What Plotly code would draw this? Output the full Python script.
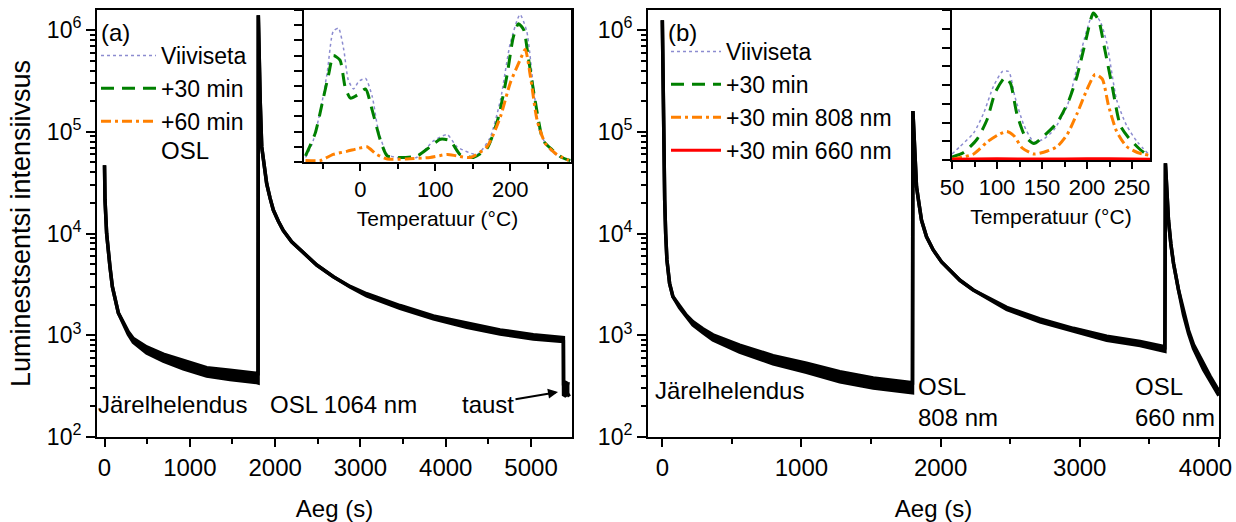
import plotly.graph_objects as go

# ---------------- main curves ----------------
# Panel (a): afterglow -> OSL 1064 nm -> background ("taust")
t_a = [0, 6, 25, 45, 64, 92, 123, 162, 221, 279, 338, 494, 690, 924, 1198, 1471, 1784, 1800,
       1803, 1815, 1825, 1843, 1870, 1901, 1940, 1979, 2038, 2096, 2194, 2292, 2488, 2683,
       2879, 3074, 3464, 3855, 4246, 4637, 5027, 5379, 5381, 5400, 5430, 5450]
hi_a = [46800, 21400, 10000, 6300, 4700, 3000, 2240, 1660, 1340, 1080, 930, 767, 653, 562, 479,
        452, 422, 420,
        1400000, 300000, 200000, 71000, 45700, 30900, 22400, 17000, 13200, 10700, 8300, 6900,
        4900, 3760, 3020, 2560, 1960, 1550, 1320, 1130, 1010, 950, 340, 345, 335, 330]
lo_a = [46800, 21400, 10000, 6300, 4700, 3000, 2240, 1660, 1300, 1020, 851, 668, 556, 468, 398,
        367, 343, 340,
        1400000, 300000, 200000, 71000, 45700, 30900, 22400, 17000, 13200, 10700, 8300, 6900,
        4900, 3760, 2980, 2440, 1840, 1450, 1200, 1030, 920, 870, 260, 255, 265, 250]

# Panel (b): afterglow -> OSL 808 nm -> OSL 660 nm
t_b = [0, 9, 17, 24, 33, 52, 76, 124, 172, 220, 291, 364, 556, 796, 1036, 1276, 1516, 1755,
       1798, 1801, 1815, 1827, 1844, 1863, 1899, 1947, 2007, 2067, 2139, 2235, 2475, 2714,
       2954, 3194, 3434, 3602, 3612, 3616, 3626, 3638, 3655, 3674, 3710, 3746, 3782, 3818,
       3890, 3938, 3986, 4000]
hi_b = [1250000, 97000, 21400, 10000, 5500, 3240, 2400, 1950, 1580, 1360, 1160, 1010, 800, 630,
        532, 438, 381, 348, 342,
        160000, 52500, 28800, 20000, 13500, 9300, 6900, 5250, 4400, 3470, 2790, 1883, 1449,
        1170, 979, 869, 775, 764,
        49000, 24500, 13500, 7900, 5100, 2790, 1700, 1120, 810, 520, 395, 305, 285]
lo_b = [1250000, 97000, 21400, 10000, 5500, 3240, 2400, 1860, 1510, 1260, 1060, 900, 683, 524,
        433, 348, 303, 276, 272,
        160000, 52500, 28800, 20000, 13500, 9300, 6900, 5250, 4400, 3470, 2790, 1798, 1352,
        1091, 893, 793, 707, 697,
        49000, 24500, 13500, 7900, 5100, 2790, 1590, 1040, 740, 460, 355, 272, 255]

# ---------------- inset TL curves (arbitrary units 0..100) ----------------
Ta_v = [-73, -64, -53, -44, -36, -29, -22, -16, -9, -2, 7, 16, 24, 36, 49, 75, 98, 116, 129,
        156, 173, 187, 200, 213, 222, 231, 240, 253, 267, 280]
Ia_v = [3, 12, 34, 59, 86, 88, 74, 54, 48, 53, 55, 43, 21, 5, 3, 3, 14, 18, 10,
        5, 16, 41, 78, 97, 86, 49, 19, 8, 3, 1]
Ta_30 = [-73, -60, -51, -42, -36, -27, -20, -13, -4, 7, 16, 27, 36, 53, 76, 93, 107, 120, 133,
         151, 169, 184, 196, 204, 211, 218, 224, 233, 244, 256, 269, 280]
Ia_30 = [4, 19, 38, 58, 70, 67, 49, 42, 44, 48, 34, 14, 4, 3, 4, 10, 15, 14, 5,
         3, 9, 29, 58, 82, 91, 87, 69, 41, 14, 8, 3, 1]
Ta_60 = [-73, -53, -36, -18, -2, 9, 22, 36, 62, 93, 116, 129, 147, 169, 187, 200, 213, 220,
         227, 236, 247, 262, 278]
Ia_60 = [1, 1, 5, 7, 9, 10, 5, 2, 2, 3, 5, 4, 3, 10, 30, 52, 67, 74, 56, 27, 12, 5, 1]

Tb_v = [50, 59, 74, 85, 96, 106, 113, 120, 130, 141, 152, 163, 178, 189, 200, 207, 215, 222,
        233, 244, 256, 270]
Ib_v = [4, 9, 18, 31, 49, 59, 59, 42, 23, 12, 14, 20, 36, 62, 87, 98, 92, 78, 40, 23, 12, 3]
Tb_30 = [50, 63, 78, 89, 98, 109, 115, 122, 131, 141, 152, 167, 180, 189, 198, 207, 213, 220,
         228, 237, 246, 259, 270]
Ib_30 = [2, 5, 14, 27, 45, 55, 51, 31, 16, 11, 16, 25, 40, 56, 78, 98, 93, 73, 49, 23, 15, 7, 2]
Tb_808 = [50, 74, 89, 102, 111, 119, 128, 141, 156, 167, 178, 189, 200, 209, 217, 224, 233,
          244, 256, 270]
Ib_808 = [0.5, 4, 12, 17, 19, 16, 8, 4, 6, 9, 17, 31, 47, 57, 54, 36, 19, 9, 5, 3]
Tb_660 = [50, 100, 150, 200, 250, 270]
Ib_660 = [0.5, 0.8, 0.6, 0.9, 0.7, 0.5]

# tick labels
y_tickvals = [1e2, 1e3, 1e4, 1e5, 1e6]
y_ticktext = ["10<sup>2</sup>", "10<sup>3</sup>", "10<sup>4</sup>", "10<sup>5</sup>", "10<sup>6</sup>"]
y_minor = [m * d for d in [1e2, 1e3, 1e4, 1e5, 1e6] for m in range(2, 10)]
xb_tickvals = [0, 1000, 2000, 3000, 4000]
xb_ticktext = ["0", "1000", "2000", "3000", "4000\u00a0\u00a0\u00a0\u00a0"]

FONT = "Liberation Sans, Arial, sans-serif"
LAV = "#8c8cd0"
GRN = "#008000"
ORG = "#ff8000"
RED = "#ff0000"
FS = 24

fig = go.Figure()

# main curves drawn as noise bands (lower edge, upper edge filled)
for t, lo, hi, xa, ya in [(t_a, lo_a, hi_a, "x", "y"), (t_b, lo_b, hi_b, "x2", "y2")]:
    fig.add_trace(go.Scatter(x=t, y=lo, mode="lines", line=dict(color="black", width=3.5),
                             xaxis=xa, yaxis=ya, showlegend=False, hoverinfo="skip"))
    fig.add_trace(go.Scatter(x=t, y=hi, mode="lines", line=dict(color="black", width=3.5),
                             fill="tonexty", fillcolor="black",
                             xaxis=xa, yaxis=ya, showlegend=False, hoverinfo="skip"))

def tl(x, y, name, color, width, dash, xa, ya, leg):
    fig.add_trace(go.Scatter(x=x, y=y, mode="lines", name=name,
                             line=dict(color=color, width=width, dash=dash, shape="spline",
                                       smoothing=0.6),
                             xaxis=xa, yaxis=ya, legend=leg))

# inset (a)
tl(Ta_v, Ia_v, "Viiviseta", LAV, 1.5, "3px,3px", "x3", "y3", "legend")
tl(Ta_30, Ia_30, "+30 min", GRN, 3, "13px,8px", "x3", "y3", "legend")
tl(Ta_60, Ia_60, "+60 min", ORG, 3, "10px,4px,3px,4px", "x3", "y3", "legend")
# inset (b)
tl(Tb_v, Ib_v, "Viiviseta", LAV, 1.5, "3px,3px", "x4", "y4", "legend2")
tl(Tb_30, Ib_30, "+30 min", GRN, 3, "13px,8px", "x4", "y4", "legend2")
tl(Tb_808, Ib_808, "+30 min 808 nm", ORG, 3, "10px,4px,3px,4px", "x4", "y4", "legend2")
tl(Tb_660, Ib_660, "+30 min 660 nm", RED, 3, "solid", "x4", "y4", "legend2")

W, H = 1236, 522
def px_x(p): return p / W
def px_y(p): return 1 - p / H

axis_common = dict(showline=True, linecolor="black", linewidth=2, mirror=True,
                   showgrid=False, zeroline=False, ticks="outside", tickcolor="black",
                   tickwidth=2, automargin=False, ticklabeloverflow="allow")

main_x = dict(axis_common, ticklen=8,
              tickfont=dict(size=FS, family=FONT, color="black"),
              minor=dict(ticks="outside", dtick=500, tick0=0, ticklen=5, tickwidth=2, tickcolor="black"),
              title=dict(text="Aeg (s)", font=dict(size=FS, family=FONT, color="black"), standoff=22))
main_y = dict(axis_common, type="log", range=[2, 6.197], ticklen=9,
              tickmode="array", tickvals=y_tickvals, ticktext=y_ticktext,
              tickfont=dict(size=23, family=FONT, color="black"),
              minor=dict(ticks="outside", tickmode="array", tickvals=y_minor, ticklen=5,
                         tickwidth=1.5, tickcolor="black"),
              domain=[px_y(437), px_y(10)])
inset_x = dict(axis_common, ticklen=7, tickfont=dict(size=22, family=FONT, color="black"),
               title=dict(text="Temperatuur (°C)", font=dict(size=21, family=FONT, color="black"),
                          standoff=10))
inset_y = dict(axis_common, range=[0, 100], ticklen=8, showticklabels=False)

leg_common = dict(xanchor="left", yanchor="top", bgcolor="rgba(0,0,0,0)",
                  font=dict(size=23, family=FONT, color="black"), tracegroupgap=0,
                  traceorder="normal")

fig.update_layout(
    width=W, height=H, margin=dict(l=0, r=0, t=0, b=0),
    paper_bgcolor="white", plot_bgcolor="white",
    font=dict(family=FONT, size=FS, color="black"),
    xaxis=dict(main_x, domain=[px_x(97), px_x(572)], range=[-88, 5480], dtick=1000, tick0=0,
               anchor="y"),
    yaxis=dict(main_y, anchor="x",
               title=dict(text="Luminestsentsi intensiivsus",
                          font=dict(size=27, family=FONT, color="black"), standoff=8)),
    xaxis2=dict(main_x, domain=[px_x(648), px_x(1219)], range=[-103, 4001],
                tickmode="array", tickvals=xb_tickvals, ticktext=xb_ticktext, anchor="y2"),
    yaxis2=dict(main_y, anchor="x2"),
    xaxis3=dict(inset_x, domain=[px_x(304), px_x(571)], range=[-75, 281], dtick=100, tick0=0,
                minor=dict(ticks="outside", dtick=50, tick0=0, ticklen=5, tickwidth=2, tickcolor="black"),
                anchor="y3"),
    yaxis3=dict(inset_y, domain=[px_y(162), px_y(10)], dtick=10, anchor="x3"),
    xaxis4=dict(inset_x, domain=[px_x(952), px_x(1150)], range=[50, 270], dtick=50, tick0=0,
                minor=dict(ticks="outside", dtick=25, tick0=0, ticklen=5, tickwidth=2, tickcolor="black"),
                anchor="y4"),
    yaxis4=dict(inset_y, domain=[px_y(160), px_y(10)], dtick=12.5, anchor="x4"),
    legend=dict(leg_common, x=px_x(96), y=px_y(34), itemwidth=55),
    legend2=dict(leg_common, x=px_x(666), y=px_y(30), itemwidth=50),
    showlegend=True,
)

def note(text, x, y, xanchor="left"):
    fig.add_annotation(text=text, x=px_x(x), y=px_y(y), xref="paper", yref="paper",
                       xanchor=xanchor, yanchor="middle", showarrow=False,
                       font=dict(size=FS, family=FONT, color="black"), align="left")

note("(a)", 99, 33)
note("OSL", 159, 150)
note("Järelhelendus", 96, 404)
note("OSL 1064 nm", 268, 404)
note("(b)", 666, 33)
note("Järelhelendus", 653, 390)
note("OSL<br>808 nm", 916, 402)
note("OSL<br>660 nm", 1133, 402)
# "taust" with arrow pointing to the background segment
fig.add_annotation(text="taust", x=px_x(558), y=px_y(392), xref="paper", yref="paper",
                   ax=-70, ay=12, showarrow=True, arrowhead=2, arrowsize=1, arrowwidth=2,
                   arrowcolor="black", font=dict(size=FS, family=FONT, color="black"))

fig.write_html("out.html")
